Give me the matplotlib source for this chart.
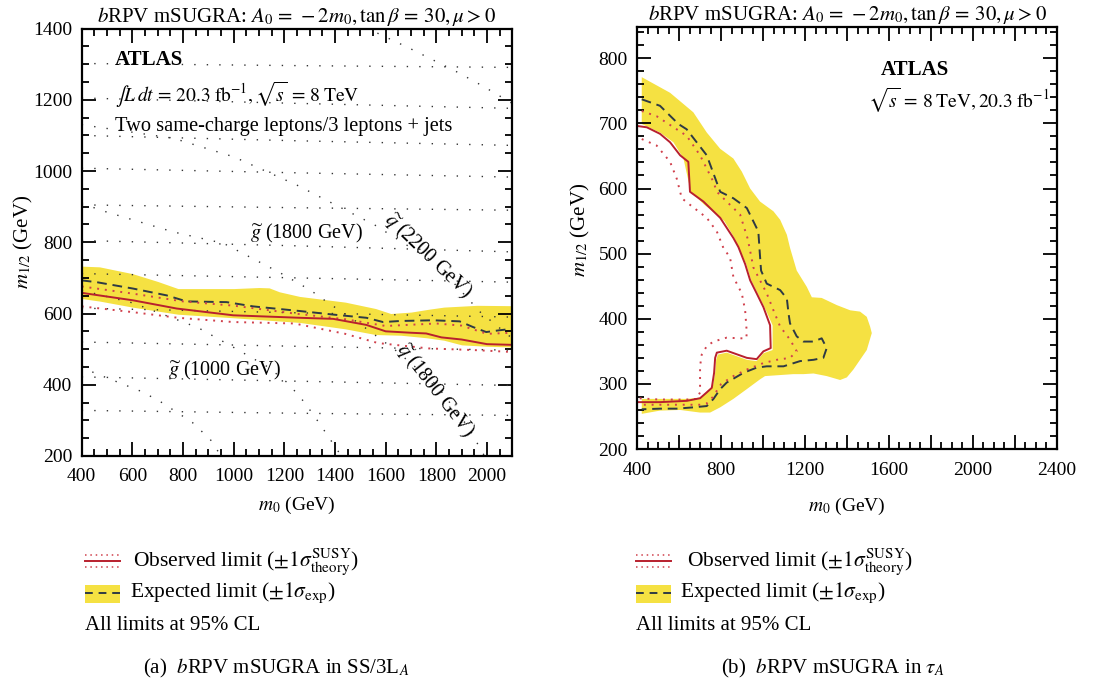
import numpy as np
import matplotlib
matplotlib.use("Agg")
import matplotlib.pyplot as plt
from matplotlib.lines import Line2D
from matplotlib.patches import Rectangle
from matplotlib.ticker import MultipleLocator, FuncFormatter

plt.rcParams['font.family'] = ['Liberation Serif', 'DejaVu Serif']
plt.rcParams['mathtext.fontset'] = 'stix'
plt.rcParams['font.size'] = 14

# ---------------- (a) SS/3L ----------------
# expected +-1 sigma band
ss_band_up_m0 = [400, 470, 600, 700, 780, 1000, 1100, 1140, 1180, 1260, 1440, 1560, 1620, 1700, 1770, 1830, 1960, 2100]
ss_band_up = [733, 731, 712, 690, 670, 670, 673, 672, 661, 648, 632, 614, 600, 604, 612, 618, 623, 622]
ss_band_dn_m0 = [400, 470, 600, 780, 1000, 1260, 1440, 1560, 1660, 1760, 1830, 1900, 2000, 2100]
ss_band_dn = [642, 635, 618, 598, 588, 575, 557, 541, 539, 532, 525, 512, 508, 506]
# expected limit
ss_exp_m0 = [400, 459, 603, 735, 814, 972, 1077, 1261, 1393, 1524, 1590, 1656, 1787, 1892, 1945, 1997, 2050, 2100]
ss_exp = [693, 688, 670, 651, 634, 632, 620, 607, 597, 588, 576, 579, 581, 578, 562, 548, 553, 557]
# observed limit and theory variations
ss_obs_m0 = [400, 603, 775, 998, 1261, 1393, 1524, 1600, 1700, 1760, 1820, 1900, 2000, 2100]
ss_obs = [658, 637, 614, 595, 588, 585, 568, 550, 546, 544, 533, 527, 514, 512]
ss_obs_up_m0 = [400, 600, 800, 1000, 1240, 1440, 1600, 1800, 1900, 2000, 2100]
ss_obs_up = [676, 656, 634, 622, 600, 584, 565, 572, 566, 543, 546]
ss_obs_dn_m0 = [400, 600, 780, 1000, 1240, 1440, 1570, 1770, 1960, 2100]
ss_obs_dn = [620, 604, 588, 576, 572, 543, 517, 502, 497, 492]

# gluino iso-mass contours (m12 at m0 = 400, 1250, 2100)
gluino_m0 = [400, 1250, 2100]
gluino_m12 = [
    [328, 320, 314],
    [422, 410, 398],
    [520, 508, 497],
    [615, 602, 590],
    [712, 700, 688],
    [805, 790, 773],
    [905, 897, 890],
    [1008, 995, 983],
    [1100, 1085, 1072],
    [1205, 1190, 1176],
    [1302, 1296, 1291],
]
# squark iso-mass contours
squark_lines = [
    ([1480, 1547, 1688, 1767, 1885, 1980, 2100], [1420, 1394, 1347, 1319, 1277, 1240, 1190]),
    ([400, 762, 1000, 1251, 1558, 1800, 1972, 2100], [1130, 1092, 1040, 960, 848, 740, 605, 530]),
    ([400, 475, 762, 960, 1184, 1302, 1373, 1500, 1637, 1800, 1925, 1990], [910, 890, 829, 797, 714, 666, 630, 570, 498, 400, 282, 200]),
    ([400, 600, 860, 992, 1135, 1215, 1280, 1340, 1393, 1425], [665, 630, 560, 508, 450, 404, 350, 290, 234, 200]),
    ([400, 447, 640, 719, 837, 908, 950], [455, 434, 380, 349, 294, 246, 200]),
]

# ---------------- (b) tau ----------------
tau_band_out_m0 = [421, 556, 667, 731, 795, 858, 898, 938, 985, 1049, 1081, 1113, 1128, 1160, 1208, 1232, 1279, 1351, 1415,
                   1462, 1494, 1510, 1518, 1494, 1462, 1430, 1399, 1367, 1303, 1240, 1192, 1144, 1009, 985, 922, 858,
                   795, 747, 699, 604, 508, 421]
tau_band_out = [771, 747, 717, 686, 661, 646, 626, 600, 580, 565, 552, 529, 509, 474, 449, 433, 432, 421, 413,
                411, 403, 388, 378, 352, 337, 322, 310, 306, 312, 316, 315, 315, 312, 307, 292, 277,
                264, 256, 256, 260, 259, 254]
tau_band_in_m0 = [421, 508, 572, 620, 655, 720, 815, 863, 919, 943, 974, 1006, 1045, 1045, 1001, 969, 922, 826, 784,
                  776, 771, 760, 736, 704, 636, 508, 421]
tau_band_in = [699, 686, 671, 646, 595, 575, 550, 524, 484, 459, 439, 418, 390, 352, 347, 335, 337, 348, 345,
               337, 317, 296, 290, 279, 277, 277, 277]
tau_exp_m0 = [421, 508, 596, 635, 683, 731, 795, 858, 922, 977, 983, 990, 1017, 1081, 1113, 1121, 1128, 1160, 1192,
              1240, 1279, 1303, 1287, 1240, 1176, 1097, 1017, 969, 906, 826, 795, 763, 731, 667, 588, 508, 421]
tau_exp = [737, 727, 699, 691, 671, 651, 595, 585, 570, 534, 505, 474, 454, 444, 431, 408, 393, 373, 365,
           365, 370, 355, 340, 337, 335, 327, 327, 325, 317, 302, 292, 277, 266, 264, 262, 262, 261]
tau_obs_m0 = [400, 445, 508, 556, 604, 643, 651, 715, 795, 858, 882, 914, 938, 969, 1001, 1033, 1036, 1001, 969,
              922, 826, 779, 771, 766, 755, 731, 699, 636, 508, 400]
tau_obs = [696, 694, 684, 671, 651, 641, 595, 580, 555, 524, 510, 484, 459, 439, 418, 390, 355, 350, 338,
           340, 351, 348, 340, 317, 294, 287, 278, 274, 272, 272]
tau_obs_up_m0 = [421, 492, 635, 667, 699, 763, 779, 826, 890, 925, 935, 953, 1017, 1049, 1081, 1128, 1160, 1128,
                 1065, 1001, 922, 858, 800, 760, 731, 699, 600, 421]
tau_obs_up = [719, 711, 681, 666, 651, 610, 595, 580, 560, 524, 509, 479, 439, 413, 388, 368, 350, 340,
              337, 332, 322, 312, 300, 280, 270, 268, 268, 268]
tau_obs_dn_m0 = [421, 492, 556, 588, 612, 651, 731, 779, 810, 842, 858, 898, 914, 922, 919, 890, 826, 763, 731,
                 707, 699, 699, 699, 683, 636, 508, 400]
tau_obs_dn = [676, 666, 641, 615, 585, 575, 555, 534, 509, 494, 464, 439, 413, 378, 370, 370, 371, 365, 358,
              345, 327, 312, 287, 277, 276, 276, 278]

YELLOW = '#F5E142'
RED = '#B8202E'
RED_DOT = '#D0404C'
DASH = '#2E3A44'

title = r"$b$RPV mSUGRA: $A_0\,=\,-2m_0, \tan\beta\,=\,30, \mu > 0$"

fig = plt.figure(figsize=(10.97, 6.82), dpi=100)
ax1 = fig.add_axes([0.0745, 0.3314, 0.3925, 0.6267])
ax2 = fig.add_axes([0.581, 0.3416, 0.3823, 0.6188])

dot_kw = dict(color='0.2', lw=1.0, linestyle=(0, (1, 8)))

# --- left panel ---
band_x = np.union1d(ss_band_up_m0, ss_band_dn_m0)
ax1.fill_between(band_x, np.interp(band_x, ss_band_dn_m0, ss_band_dn),
                 np.interp(band_x, ss_band_up_m0, ss_band_up), color=YELLOW, lw=0)
for row in gluino_m12:
    ax1.plot(gluino_m0, row, **dot_kw)
for xs, ys in squark_lines:
    ax1.plot(xs, ys, **dot_kw)
ax1.plot(ss_exp_m0, ss_exp, color=DASH, lw=1.4, linestyle=(0, (5, 3)))
ax1.plot(ss_obs_up_m0, ss_obs_up, color=RED_DOT, lw=1.4, linestyle=(0, (1, 3)))
ax1.plot(ss_obs_dn_m0, ss_obs_dn, color=RED_DOT, lw=1.4, linestyle=(0, (1, 3)))
ax1.plot(ss_obs_m0, ss_obs, color=RED, lw=1.4)

ax1.set_xlim(400, 2100)
ax1.set_ylim(200, 1400)
ax1.xaxis.set_major_locator(MultipleLocator(200))
ax1.xaxis.set_minor_locator(MultipleLocator(50))
ax1.yaxis.set_major_locator(MultipleLocator(200))
ax1.yaxis.set_minor_locator(MultipleLocator(50))

ax1.text(0.077, 0.926, "ATLAS", transform=ax1.transAxes, fontweight='bold', va='center', fontsize=15)
ax1.text(0.077, 0.844, r"$\int L\,dt\,=\,20.3\;\mathrm{fb}^{-1}, \sqrt{s}\,=\,8\;\mathrm{TeV}$",
         transform=ax1.transAxes, va='center', fontsize=14)
ax1.text(0.077, 0.772, "Two same-charge leptons/3 leptons + jets", transform=ax1.transAxes, va='center',
         fontsize=14.7)
ax1.text(1064, 825, r"$\widetilde{g}$ (1800 GeV)", va='center', fontsize=14.5)
ax1.text(740, 441, r"$\widetilde{g}$ (1000 GeV)", va='center', fontsize=14.5)
ax1.text(1767, 763, r"$\widetilde{q}$ (2200 GeV)", rotation=-44, ha='center', va='center', fontsize=14.5)
ax1.text(1795, 385, r"$\widetilde{q}$ (1800 GeV)", rotation=-52, ha='center', va='center', fontsize=14.5)

# --- right panel ---
ax2.fill(tau_band_out_m0 + tau_band_in_m0[::-1], tau_band_out + tau_band_in[::-1], color=YELLOW, lw=0)
ax2.plot(tau_exp_m0, tau_exp, color=DASH, lw=1.4, linestyle=(0, (5, 3)))
ax2.plot(tau_obs_up_m0, tau_obs_up, color=RED_DOT, lw=1.4, linestyle=(0, (1, 3)))
ax2.plot(tau_obs_dn_m0, tau_obs_dn, color=RED_DOT, lw=1.4, linestyle=(0, (1, 3)))
ax2.plot(tau_obs_m0, tau_obs, color=RED, lw=1.4)

ax2.set_xlim(400, 2400)
ax2.set_ylim(200, 848)
ax2.xaxis.set_major_locator(MultipleLocator(200))
ax2.xaxis.set_minor_locator(MultipleLocator(50))
ax2.xaxis.set_major_formatter(FuncFormatter(lambda v, p: f"{v:.0f}" if round(v) % 400 == 0 else ""))
ax2.yaxis.set_major_locator(MultipleLocator(100))
ax2.yaxis.set_minor_locator(MultipleLocator(20))

ax2.text(0.662, 0.898, "ATLAS", transform=ax2.transAxes, fontweight='bold', ha='center', va='center',
         fontsize=15)
ax2.text(0.55, 0.827, r"$\sqrt{s}\,=\,8\;\mathrm{TeV}, 20.3\;\mathrm{fb}^{-1}$", transform=ax2.transAxes,
         va='center', fontsize=14)

for ax in (ax1, ax2):
    ax.set_title(title, fontsize=15, pad=5)
    ax.tick_params(which='both', direction='in', top=True, right=True, width=1.3, labelsize=14)
    ax.tick_params(which='major', length=10, pad=7)
    ax.tick_params(which='minor', length=5)
    ax.tick_params(axis='x', which='major', pad=9)
    for s in ax.spines.values():
        s.set_linewidth(1.6)
    ax.set_xlabel(r"$m_0$ (GeV)", fontsize=14)
    ax.set_ylabel(r"$m_{1/2}$ (GeV)", fontsize=15)

ax1.xaxis.set_label_coords(0.5, -0.092)
ax1.yaxis.set_label_coords(-0.108, 0.5)
ax2.xaxis.set_label_coords(0.5, -0.112)
ax2.yaxis.set_label_coords(-0.107, 0.52)

# --- legends and captions below each panel ---
W, H = 1097.0, 682.0


def fx(px):
    return px / W


def fy(py):
    return 1 - py / H


def legend_block(x0, tx_obs, tx_exp, cap_x, caption):
    for yy, kw in ((555, dict(color=RED_DOT, lw=1.1, linestyle=(0, (1, 2.5)))),
                   (561, dict(color=RED, lw=1.4)),
                   (567, dict(color=RED_DOT, lw=1.1, linestyle=(0, (1, 2.5))))):
        fig.add_artist(Line2D([fx(x0), fx(x0 + 35)], [fy(yy), fy(yy)], transform=fig.transFigure, **kw))
    fig.text(fx(tx_obs), fy(562), r"Observed limit ($\pm1\sigma^{\mathrm{SUSY}}_{\mathrm{theory}}$)",
             va='center', fontsize=15.5)
    fig.add_artist(Rectangle((fx(x0), fy(603)), fx(35), 18 / H, transform=fig.transFigure,
                             color=YELLOW, lw=0))
    fig.add_artist(Line2D([fx(x0), fx(x0 + 35)], [fy(593), fy(593)], transform=fig.transFigure,
                          color=DASH, lw=1.4, linestyle=(0, (4, 3))))
    fig.text(fx(tx_exp), fy(593), r"Expected limit ($\pm1\sigma_{\mathrm{exp}}$)", va='center', fontsize=15.5)
    fig.text(fx(x0), fy(625), "All limits at 95% CL", va='center', fontsize=15)
    fig.text(fx(cap_x), fy(668), caption, va='center', ha='center', fontsize=15)


legend_block(85, 133, 130, 276, r"(a)  $b$RPV mSUGRA in SS/3L$_A$")
legend_block(636, 687, 680, 833, r"(b)  $b$RPV mSUGRA in $\tau_A$")

fig.savefig("out.png", dpi=100)
